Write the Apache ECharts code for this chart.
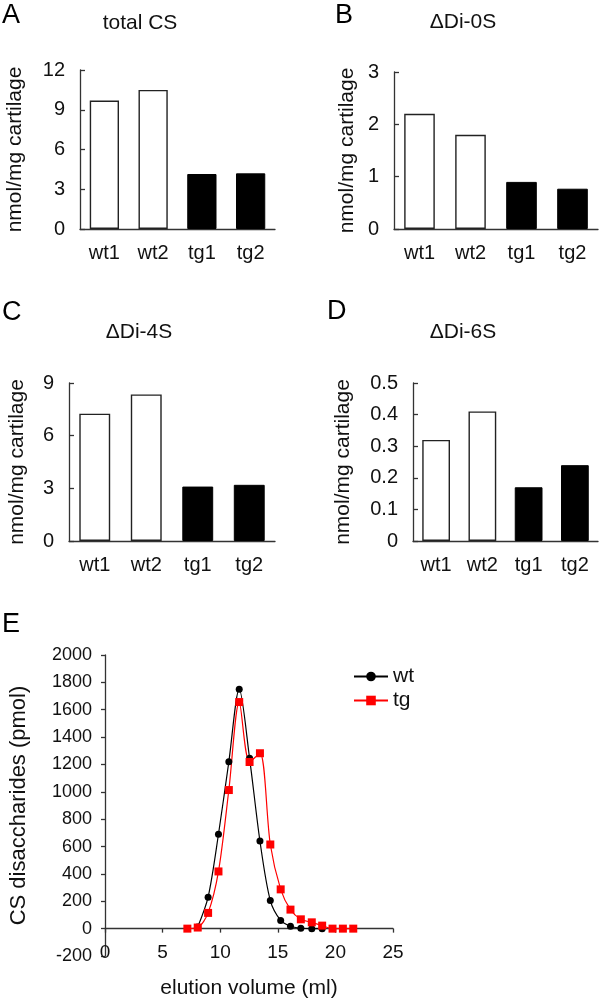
<!DOCTYPE html>
<html>
<head>
<meta charset="utf-8">
<script src="https://cdn.jsdelivr.net/npm/echarts@6/dist/echarts.min.js"></script>
<style>
html,body{margin:0;padding:0;background:#fff;}
#chart{width:600px;height:1002px;}
</style>
</head>
<body>
<div id="chart"></div>
<script>
// ---- data ----
var categories = ['wt1', 'wt2', 'tg1', 'tg2'];
var totalCS = [9.7, 10.5, 4.15, 4.2];
var di0S = [2.2, 1.8, 0.9, 0.77];
var di4S = [7.25, 8.35, 3.1, 3.2];
var di6S = [0.32, 0.41, 0.17, 0.24];
var panelTitles = ['total CS', 'ΔDi-0S', 'ΔDi-4S', 'ΔDi-6S'];
var panelLetters = ['A', 'B', 'C', 'D', 'E'];
var yMaxes = [12, 3, 9, 0.5];
var yIntervals = [3, 1, 3, 0.1];

var wtVolume = [8.05, 8.95, 9.85, 10.75, 11.65, 12.55, 13.45, 14.35, 15.25, 16.1, 17.0, 17.95, 18.85];
var wtAmount = [12, 230, 690, 1220, 1750, 1245, 640, 205, 60, 17, 3, 0, 0];
var tgVolume = [7.15, 8.05, 8.95, 9.85, 10.75, 11.65, 12.55, 13.45, 14.35, 15.25, 16.1, 17.0, 17.95, 18.85, 19.75, 20.65, 21.55];
var tgAmount = [0, 8, 115, 418, 1013, 1656, 1218, 1282, 615, 287, 139, 68, 46, 22, 0, 0, 0];
var eXTicks = [0, 25, 5];
var eYTicks = [-200, 2000, 200];

// ---- layout ----
var FONT = '"Liberation Sans", Arial, Helvetica, sans-serif';
var AX = '#333';
var TXT = '#111';
var grids = [
  {left: 80, top: 70, width: 195, height: 159},
  {left: 394, top: 72, width: 204, height: 157},
  {left: 69, top: 383, width: 206, height: 158},
  {left: 413, top: 383, width: 185, height: 158},
  {left: 105, top: 655, width: 288, height: 301}
];
var nameGaps = [54, 36, 41, 59];
var titlePos = [[140, 23], [463, 22], [139, 332], [463, 332]];
var letterPos = [[2, 16], [335, 16], [2, 313], [327, 312], [2, 625]];

function pairs(xs, ys) { return xs.map(function (x, i) { return [x, ys[i]]; }); }
function plain(v) { return String(v); }

var series = [], xAxes = [], yAxes = [], graphics = [];
var barSets = [totalCS, di0S, di4S, di6S];
for (var p = 0; p < 4; p++) {
  xAxes.push({
    type: 'category', gridIndex: p, data: categories,
    axisLine: {lineStyle: {color: AX, width: 1.3}},
    axisTick: {inside: true, length: 5, lineStyle: {color: AX, width: 1.3}},
    axisLabel: {color: TXT, fontSize: 20, fontFamily: FONT, margin: 14}
  });
  yAxes.push({
    type: 'value', gridIndex: p, min: 0, max: yMaxes[p], interval: yIntervals[p],
    name: 'nmol/mg cartilage', nameLocation: 'middle', nameGap: nameGaps[p],
    nameTextStyle: {color: TXT, fontSize: 21, fontFamily: FONT},
    axisLine: {show: true, lineStyle: {color: AX, width: 1.3}},
    axisTick: {show: true, inside: true, length: 5, lineStyle: {color: AX, width: 1.3}},
    axisLabel: {color: TXT, fontSize: 20, fontFamily: FONT, margin: 15, formatter: plain},
    splitLine: {show: false}
  });
  series.push({
    type: 'bar', xAxisIndex: p, yAxisIndex: p, barWidth: '60%',
    data: barSets[p].map(function (v, i) {
      var tg = categories[i].indexOf('tg') === 0;
      return {value: v, itemStyle: tg ? {color: '#000', borderColor: '#000', borderWidth: 1}
                                        : {color: '#fff', borderColor: '#222', borderWidth: 1.4}};
    })
  });
  graphics.push({type: 'text', x: titlePos[p][0], y: titlePos[p][1],
    style: {text: panelTitles[p], fill: TXT, font: '21px ' + FONT, align: 'center', verticalAlign: 'middle', textAlign: 'center', textVerticalAlign: 'middle'}});
}
for (var k = 0; k < 5; k++) {
  graphics.push({type: 'text', x: letterPos[k][0], y: letterPos[k][1],
    style: {text: panelLetters[k], fill: '#000', font: '27px ' + FONT, align: 'left', verticalAlign: 'middle', textAlign: 'left', textVerticalAlign: 'middle'}});
}

// panel E
xAxes.push({
  type: 'value', gridIndex: 4, min: eXTicks[0], max: eXTicks[1], interval: eXTicks[2],
  position: 'bottom',
  axisLine: {onZero: true, lineStyle: {color: AX, width: 1.3}},
  axisTick: {show: true, length: 4, lineStyle: {color: AX, width: 1.3}},
  axisLabel: {show: false}, splitLine: {show: false}
});
xAxes.push({
  type: 'value', gridIndex: 4, min: eXTicks[0], max: eXTicks[1], interval: eXTicks[2],
  position: 'bottom', offset: -21,
  name: 'elution volume (ml)', nameLocation: 'middle', nameGap: 43,
  nameTextStyle: {color: TXT, fontSize: 21, fontFamily: FONT},
  axisLine: {show: false, onZero: false}, axisTick: {show: false},
  axisLabel: {color: TXT, fontSize: 19, fontFamily: FONT, margin: 8, formatter: plain}, splitLine: {show: false}
});
yAxes.push({
  type: 'value', gridIndex: 4, min: eYTicks[0], max: eYTicks[1], interval: eYTicks[2],
  name: 'CS disaccharides (pmol)', nameLocation: 'middle', nameGap: 75,
  nameTextStyle: {color: TXT, fontSize: 22, fontFamily: FONT},
  axisLine: {show: true, lineStyle: {color: AX, width: 1.3}},
  axisTick: {show: true, length: 4, lineStyle: {color: AX, width: 1.3}},
  axisLabel: {color: TXT, fontSize: 18, fontFamily: FONT, margin: 13, formatter: plain},
  splitLine: {show: false}
});
series.push({
  name: 'wt', type: 'line', xAxisIndex: 4, yAxisIndex: 4, data: pairs(wtVolume, wtAmount),
  smooth: 0.3, symbol: 'circle', symbolSize: 7,
  lineStyle: {color: '#000', width: 1.2}, itemStyle: {color: '#000'}
});
series.push({
  name: 'tg', type: 'line', xAxisIndex: 4, yAxisIndex: 4, data: pairs(tgVolume, tgAmount),
  smooth: 0.3, symbol: 'rect', symbolSize: 8,
  lineStyle: {color: '#ff0000', width: 1.2}, itemStyle: {color: '#ff0000'}
});

var chart = echarts.init(document.getElementById('chart'), null, {renderer: 'canvas'});
chart.setOption({
  animation: false,
  backgroundColor: '#fff',
  textStyle: {fontFamily: FONT},
  grid: grids,
  xAxis: xAxes,
  yAxis: yAxes,
  series: series,
  graphic: graphics,
  legend: {
    data: ['wt', 'tg'], orient: 'vertical', left: 348, top: 661,
    itemWidth: 34, itemHeight: 12, itemGap: 3,
    textStyle: {color: TXT, fontSize: 21, fontFamily: FONT}
  }
});
</script>
</body>
</html>
